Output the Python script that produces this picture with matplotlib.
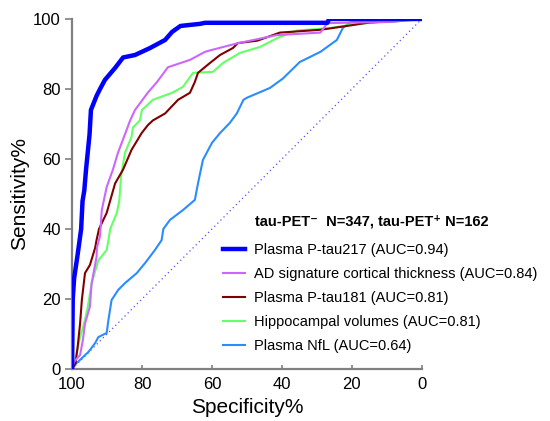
import matplotlib
matplotlib.use("Agg")
import matplotlib.pyplot as plt

plt.rcParams['font.family'] = ['Liberation Sans', 'DejaVu Sans']

# ROC curves: specificity (%) vs sensitivity (%)
ptau217_spec = [100, 99.8, 99.4, 98.5, 97.4, 97, 96.5, 96, 95, 94.6, 93, 92, 90.6, 87.7,
                85.4, 82, 77.7, 73.4, 71.4, 69, 63.4, 62, 27, 26.5, 0]
ptau217_sens = [0, 20, 26, 32, 40, 48, 51, 57, 67, 74, 78, 80, 82.6, 86,
                89, 89.7, 91.7, 94, 96.3, 98, 98.6, 98.9, 98.9, 100, 100]

thick_spec = [100, 99.5, 97.7, 96.9, 96.3, 94.9, 94.4, 93, 92.9, 92, 91.5, 90.1, 88.3, 86.9,
              84.4, 83.4, 82, 78.3, 75.7, 72.6, 69, 66.3, 62, 60.6, 52.9, 41.4, 29, 27, 8.3, 0]
thick_sens = [0, 2, 4, 8.3, 13, 17.8, 24.5, 32, 34.6, 38, 45.4, 52, 57, 61.7,
              68.3, 71, 74, 79, 82, 86.2, 87.4, 88.3, 90.6, 91, 93, 95.4, 96.1, 98.8, 99.2, 100]

ptau181_spec = [100, 99, 98.4, 97.7, 97.2, 96.3, 94.9, 93.4, 93, 92.3, 90.1, 87.7, 85.4, 83,
                80.1, 78.3, 76.9, 73.4, 69.7, 66.3, 64.9, 64, 60.6, 57.7, 54, 52.6, 47, 40.6,
                29, 21.4, 14.9, 7, 3, 0]
ptau181_sens = [0, 1.7, 6.3, 13, 19.7, 27.4, 29.7, 34.6, 36.8, 40, 44.6, 53, 57, 62.6,
                67.4, 69.7, 71, 73, 76.9, 78.9, 82, 84.6, 87.4, 89.7, 91.7, 93.1, 93.8, 96.1,
                96.9, 98, 99, 99.4, 100, 100]

hippo_spec = [100, 99.5, 98.7, 97.7, 96.3, 95.5, 94.4, 92.5, 90.1, 89.6, 89.1, 87.2, 86.5, 86.0,
              84.9, 83, 82.6, 80.6, 80, 76.9, 71.4, 68.3, 65.4, 59.7, 56.9, 52, 46.3, 40.6,
              35.7, 26.3, 18.6, 1.4, 0]
hippo_sens = [0, 1.5, 4.6, 9.1, 14, 17.8, 24.5, 31, 34, 36.8, 40, 44.6, 48, 54.9,
              61.7, 66.3, 69, 71, 74, 76.9, 78.9, 80.6, 84.6, 84.9, 87.4, 90.3, 92, 94.9,
              96.7, 97.4, 98.6, 99.7, 100]

nfl_spec = [100, 98.7, 97.2, 95.3, 93.4, 92.5, 90.1, 89.6, 88.7, 86.8, 84.9, 81.5, 79.1, 76.3,
            74.4, 73.9, 72, 68.3, 64.9, 64, 62.6, 60, 57.7, 54.9, 52.9, 51, 50, 43.4, 39.7,
            34.9, 29, 24.3, 22.6, 20.6, 18, 0]
nfl_sens = [0, 1.7, 3.1, 4.9, 7.4, 9.1, 10.3, 14, 19.7, 22.6, 24.5, 27.4, 30.3, 34,
            36.8, 40, 42.6, 45.4, 48.3, 53, 59.7, 64.6, 67.4, 70.3, 73, 76.9, 77.5, 80.3, 83,
            87.7, 90.6, 94, 97.4, 99, 99.4, 100]

labels = ["Plasma P-tau217 (AUC=0.94)",
          "AD signature cortical thickness (AUC=0.84)",
          "Plasma P-tau181 (AUC=0.81)",
          "Hippocampal volumes (AUC=0.81)",
          "Plasma NfL (AUC=0.64)"]
legend_title = "tau-PET\u207b  N=347, tau-PET\u207a N=162"

fig = plt.figure(figsize=(5.5, 4.21), dpi=100)
ax = fig.add_axes([0.131, 0.1235, 0.636, 0.8315])

# chance line
ax.plot([100, 0], [0, 100], linestyle=(0, (1, 2.5)), color="#5050ff", lw=0.9, zorder=1)

l_nfl, = ax.plot(nfl_spec, nfl_sens, color="#2b8cff", lw=1.5, zorder=2)
l_hip, = ax.plot(hippo_spec, hippo_sens, color="#66ff66", lw=1.5, zorder=3)
l_181, = ax.plot(ptau181_spec, ptau181_sens, color="#800000", lw=1.5, zorder=4)
l_thk, = ax.plot(thick_spec, thick_sens, color="#cc66ff", lw=1.5, zorder=5)
l_217, = ax.plot(ptau217_spec, ptau217_sens, color="#0000ff", lw=3.2, zorder=6)

ax.set_xlim(100, 0)
ax.set_ylim(0, 100)
ax.set_xticks([100, 80, 60, 40, 20, 0])
ax.set_yticks([0, 20, 40, 60, 80, 100])
ax.tick_params(axis='y', direction='out', length=5, width=1.2, color="#808080",
               labelsize=12, pad=3)
ax.tick_params(axis='x', direction='in', length=3, width=1.2, color="#808080",
               labelsize=12, pad=6)
for s in ("top", "right"):
    ax.spines[s].set_visible(False)
for s in ("left", "bottom"):
    ax.spines[s].set_color("#808080")
    ax.spines[s].set_linewidth(1.6)
    ax.spines[s].set_clip_on(False)

ax.set_xlabel("Specificity%", fontsize=15, labelpad=4)
ax.set_ylabel("Sensitivity%", fontsize=15, labelpad=3)

fig.text(255 / 550, 1 - 222 / 421, legend_title, fontsize=10.5, fontweight="bold",
         ha="left", va="center")
ax.legend([l_217, l_thk, l_181, l_hip, l_nfl], labels,
          loc="upper left", bbox_to_anchor=(223 / 550, 1 - 243 / 421),
          bbox_transform=fig.transFigure, frameon=False, fontsize=10.5,
          handlelength=1.5, handletextpad=0.65, labelspacing=0.68,
          borderpad=0, borderaxespad=0)

fig.savefig("out.png", dpi=100)
